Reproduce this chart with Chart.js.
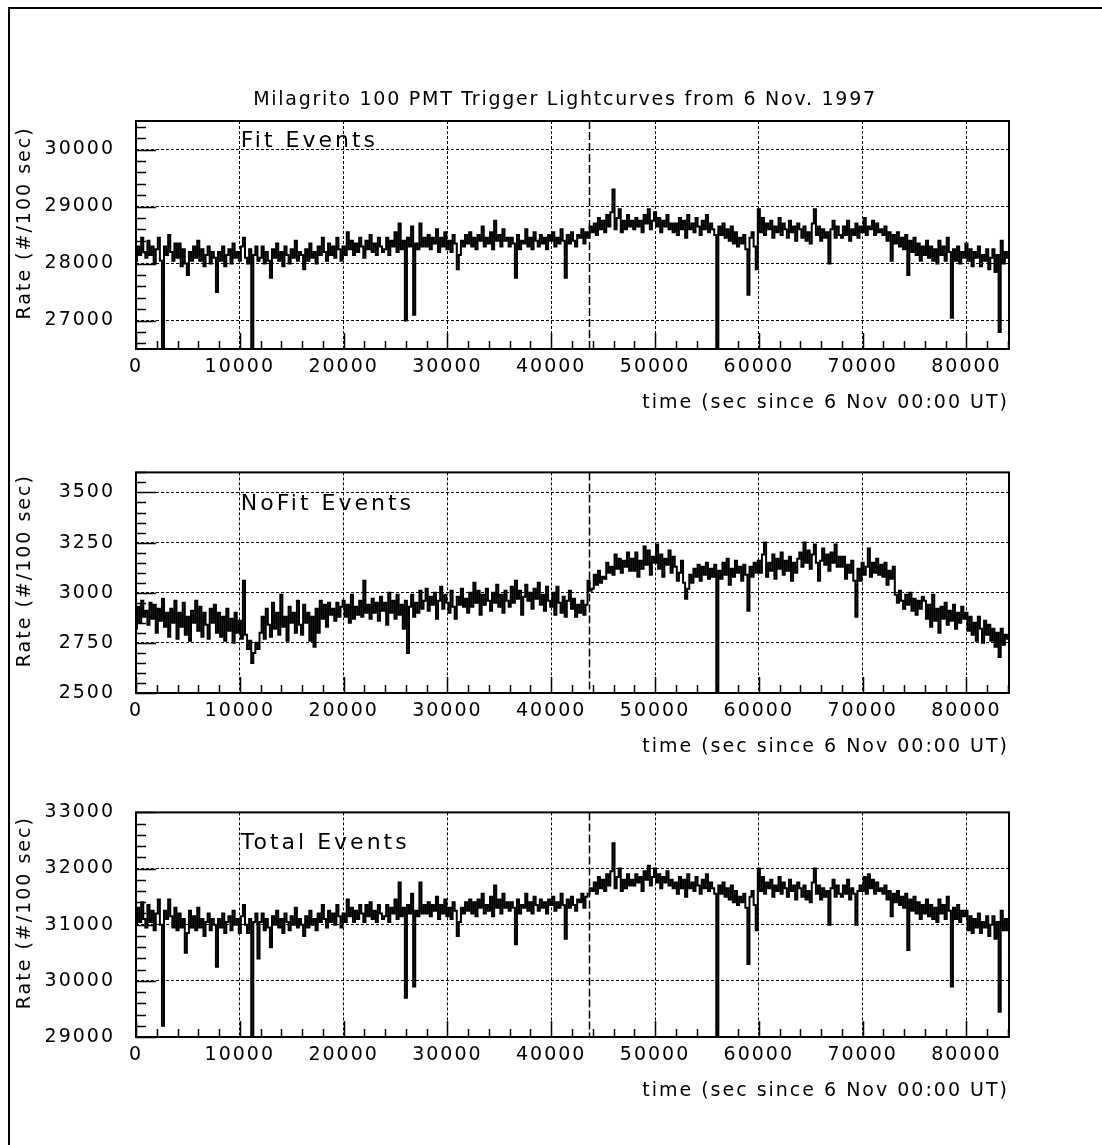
<!DOCTYPE html>
<html>
<head>
<meta charset="utf-8">
<title>Milagrito 100 PMT Trigger Lightcurves</title>
<script src="https://cdn.jsdelivr.net/npm/chart.js@4.4.1/dist/chart.umd.min.js"></script>
<style>
    html, body { margin: 0; padding: 0; background: #fff; }
    #page { position: relative; width: 1102px; height: 1145px; overflow: hidden; }
    #frame { position: absolute; left: 8px; top: 7px; width: 1200px; height: 1200px;
             border-left: 2px solid #000; border-top: 2px solid #000; }
    canvas { position: absolute; left: 0; }
</style>
</head>
<body>
<div id="page">
    <div id="frame"></div>
    <canvas id="fitChart" width="1102" height="341" style="top:80px"></canvas>
    <canvas id="noFitChart" width="1102" height="325" style="top:440px"></canvas>
    <canvas id="totalChart" width="1102" height="329" style="top:780px"></canvas>
</div>
<script>
// rates, one value every 200 sec from 0 to 84000 (20 per row = 4000 sec)
const BIN_SEC = 200;
const T_MAX = 84100;
const TRIGGER_TIME = 43600;

const xTickLabels = [0, 10000, 20000, 30000, 40000, 50000, 60000, 70000, 80000];
const X_MINOR_STEP = 2000;

const fitRate = [
    28050, 28300, 28150, 28450, 28200, 28100, 28400, 28150, 28300, 28000, 28250, 28450, 28050, 26100, 28300, 28150, 28500, 28200, 28050, 28350,
    28100, 28350, 27950, 28250, 28000, 27800, 28200, 28050, 28300, 28100, 28400, 28050, 28250, 27950, 28150, 28300, 28000, 28200, 28100, 27500,
    28200, 28050, 28300, 27950, 28150, 28250, 28000, 28350, 28100, 28200, 28050, 28300, 28450, 28100, 28000, 28250, 26400, 28150, 28300, 28050,
    28100, 28300, 28000, 28200, 28050, 27750, 28250, 28100, 28350, 28050, 28200, 27950, 28300, 28150, 28000, 28250, 28100, 28400, 28050, 28200,
    28150, 27900, 28250, 28050, 28350, 28100, 28200, 28000, 28300, 28150, 28450, 28200, 28050, 28350, 28150, 28300, 28100, 28450, 28250, 28050,
    28300, 28150, 28550, 28250, 28400, 28150, 28350, 28200, 28450, 28300, 28100, 28400, 28250, 28500, 28200, 28350, 28150, 28450, 28300, 28200,
    28250, 28450, 28150, 28400, 28300, 28550, 28200, 28700, 28250, 28400, 27000, 28450, 28300, 28650, 27100, 28350, 28250, 28700, 28300, 28450,
    28300, 28500, 28250, 28450, 28350, 28600, 28200, 28450, 28300, 28550, 28250, 28400, 28200, 28500, 28350, 27900, 28150, 28400, 28300, 28500,
    28350, 28550, 28300, 28450, 28250, 28500, 28400, 28650, 28300, 28450, 28350, 28550, 28250, 28750, 28400, 28500, 28300, 28600, 28400, 28450,
    28300, 28450, 28350, 27750, 28500, 28250, 28400, 28350, 28600, 28300, 28450, 28250, 28550, 28400, 28300, 28500, 28350, 28450, 28250, 28500,
    28400, 28550, 28300, 28450, 28350, 28600, 28400, 27750, 28500, 28350, 28550, 28400, 28300, 28500, 28450, 28600, 28350, 28550, 28450, 28650,
    28550, 28700, 28500, 28800, 28600, 28750, 28550, 28850, 28650, 28900, 29300, 28600, 28800, 28950, 28550, 28750, 28600, 28850, 28650, 28750,
    28600, 28800, 28650, 28750, 28550, 28850, 28700, 28950, 28600, 28750, 28900, 28650, 28800, 28550, 28750, 28650, 28850, 28600, 28700, 28550,
    28700, 28500, 28800, 28600, 28750, 28450, 28850, 28600, 28700, 28550, 28800, 28650, 28500, 28750, 28600, 28850, 28550, 28700, 28600, 28500,
    26300, 28650, 28500, 28700, 28450, 28600, 28400, 28650, 28350, 28550, 28300, 28450, 28350, 28500, 28250, 27450, 28450, 28550, 28300, 27900,
    28950, 28550, 28800, 28500, 28700, 28600, 28750, 28450, 28650, 28550, 28800, 28500, 28700, 28600, 28450, 28750, 28550, 28650, 28400, 28700,
    28600, 28450, 28650, 28400, 28550, 28350, 28700, 28950, 28500, 28650, 28400, 28600, 28450, 28550, 28000, 28600, 28750, 28450, 28650, 28500,
    28450, 28650, 28500, 28750, 28400, 28600, 28500, 28700, 28450, 28650, 28550, 28800, 28500, 28650, 28600, 28750, 28500, 28700, 28550, 28600,
    28500, 28650, 28400, 28550, 28050, 28500, 28350, 28550, 28300, 28450, 28250, 28500, 27800, 28400, 28200, 28450, 28150, 28350, 28050, 28300,
    28150, 28400, 28100, 28300, 28050, 28250, 28000, 28400, 28150, 28300, 28050, 28450, 28200, 27050, 28250, 28050, 28300, 28000, 28200, 28100,
    28350, 28050, 28250, 27950, 28200, 28100, 28300, 27950, 28150, 28050, 28250, 27900, 28100, 28250, 27850, 28150, 26800, 28400, 28000, 28200,
    28100
];

const noFitRate = [
    2820, 2930, 2850, 2960, 2880, 2910, 2840, 2950, 2870, 2940, 2800, 2920, 2860, 2970, 2830, 2900, 2780, 2920, 2850, 2960,
    2770, 2900, 2830, 2950, 2790, 2880, 2760, 2910, 2850, 2960, 2810, 2930, 2780, 2900, 2840, 2770, 2920, 2850, 2940, 2800,
    2900, 2780, 2880, 2760, 2920, 2810, 2870, 2750, 2900, 2800, 2860, 2770, 3060, 2790, 2720, 2760, 2650, 2700, 2750, 2720,
    2800, 2880, 2770, 2920, 2840, 2780, 2950, 2820, 2900, 2790, 2990, 2830, 2880, 2760, 2930, 2850, 2900, 2800, 2960, 2840,
    2790, 2940, 2850, 2900, 2760, 2880, 2730, 2920, 2800, 2960, 2870, 2940, 2830, 2950, 2890, 2920, 2860, 2950, 2880, 2930,
    2960, 2880, 2940, 2850, 2990, 2870, 2930, 2890, 2960, 2880, 3060, 2900, 2940, 2870, 2970, 2900, 2950, 2860, 2980, 2910,
    2950, 2840, 3000, 2900, 2960, 2870, 2990, 2890, 2940, 2820, 2960, 2700, 2930, 2990, 2880, 2950, 2900, 3010, 2920, 2960,
    3020, 2910, 2980, 2940, 3000, 2870, 2960, 3030, 2920, 2990, 2950, 2900, 3010, 2930, 2870, 2980, 2940, 3020, 2930, 2970,
    2900, 3000, 2930, 3050, 2950, 3010, 2890, 2990, 2940, 3020, 2960, 2910, 3000, 2950, 3040, 2930, 2990, 2900, 3010, 2960,
    2930, 3030, 2950, 3060, 2970, 3010, 2890, 2980, 3040, 2960, 3000, 2920, 3020, 2970, 3050, 2940, 2990, 2910, 3030, 2960,
    2930, 3000, 2890, 3030, 2950, 2900, 2980, 2880, 2960, 3010, 2920, 2970, 2880, 2940, 2900, 2960, 2890, 2940, 3060, 3010,
    3020, 3090, 3040, 3110, 3050, 3080, 3070, 3150, 3100, 3130, 3090, 3190, 3120, 3170, 3100, 3160, 3130, 3200, 3110, 3170,
    3110, 3200, 3080, 3160, 3120, 3230, 3140, 3210, 3090, 3180, 3150, 3240, 3120, 3190, 3080, 3170, 3140, 3210, 3100, 3180,
    3130, 3060, 3100, 3160, 3050, 2970, 3020, 3090, 3050, 3120, 3080, 3140, 3060, 3130, 3090, 3150, 3070, 3120, 3080, 3140,
    2480, 3110, 3070, 3150, 3090, 3170, 3040, 3120, 3080, 3160, 3100, 3130, 3060, 3140, 3090, 2910, 3130, 3080, 3150, 3100,
    3160, 3100, 3190, 3250, 3080, 3150, 3110, 3190, 3070, 3170, 3120, 3200, 3090, 3160, 3110, 3180, 3060, 3150, 3100, 3170,
    3200, 3130, 3250, 3150, 3210, 3120, 3190, 3240, 3150, 3060, 3160, 3220, 3140, 3190, 3110, 3200, 3150, 3240, 3130, 3180,
    3130, 3180, 3070, 3140, 3100, 3160, 3060, 2880, 3120, 3060, 3150, 3090, 3130, 3220, 3080, 3150, 3100, 3170, 3090, 3140,
    3080, 3150, 3040, 3110, 3070, 3130, 2990, 2950, 3010, 2960, 2920, 2990, 2940, 3000, 2910, 2970, 2890, 2960, 2920, 2980,
    2960, 2870, 2940, 2830, 2990, 2860, 2920, 2800, 2930, 2870, 2950, 2840, 2910, 2860, 2940, 2820, 2900, 2850, 2930, 2870,
    2900, 2810, 2880, 2790, 2850, 2760, 2880, 2820, 2750, 2860, 2790, 2840, 2760, 2820, 2730, 2800, 2680, 2820, 2740, 2790,
    2770
];

const totalRate = [
    31000, 31300, 31050, 31400, 31100, 30950, 31350, 31050, 31250, 30900, 31200, 31450, 31000, 29200, 31250, 31100, 31450, 31150, 30950, 31300,
    30900, 31200, 30950, 31100, 30500, 30850, 31250, 30950, 31150, 30900, 31300, 30950, 31100, 30800, 31050, 31200, 30900, 31100, 31000, 30250,
    31100, 30950, 31200, 30850, 31050, 31150, 30900, 31250, 31000, 31100, 30850, 31150, 31350, 31000, 30850, 31100, 28900, 31050, 31200, 30400,
    31050, 31200, 30900, 31100, 30950, 30600, 31150, 31000, 31250, 30950, 31100, 30850, 31200, 31050, 30900, 31150, 31000, 31300, 30950, 31100,
    31000, 30800, 31150, 30950, 31250, 31000, 31100, 30900, 31200, 31050, 31350, 31100, 30950, 31250, 31050, 31200, 31000, 31350, 31150, 30950,
    31200, 31050, 31450, 31150, 31300, 31050, 31250, 31100, 31350, 31200, 31050, 31350, 31150, 31400, 31100, 31250, 31050, 31350, 31200, 31100,
    31150, 31350, 31050, 31300, 31200, 31450, 31100, 31750, 31150, 31300, 29700, 31350, 31200, 31550, 29900, 31250, 31150, 31750, 31200, 31350,
    31200, 31400, 31150, 31350, 31250, 31500, 31100, 31350, 31200, 31450, 31150, 31300, 31100, 31400, 31250, 30800, 31050, 31300, 31200, 31400,
    31250, 31450, 31200, 31400, 31150, 31450, 31300, 31550, 31200, 31350, 31250, 31500, 31150, 31700, 31300, 31450, 31200, 31550, 31300, 31400,
    31250, 31400, 31300, 30650, 31450, 31200, 31350, 31300, 31550, 31250, 31400, 31200, 31500, 31350, 31250, 31450, 31300, 31400, 31200, 31450,
    31350, 31500, 31250, 31400, 31300, 31550, 31350, 30750, 31450, 31300, 31500, 31350, 31250, 31450, 31400, 31550, 31300, 31500, 31550, 31650,
    31600, 31750, 31550, 31850, 31650, 31800, 31600, 31900, 31700, 31950, 32450, 31650, 31850, 32000, 31600, 31800, 31650, 31900, 31700, 31800,
    31700, 31900, 31750, 31850, 31600, 31950, 31800, 32050, 31700, 31850, 32000, 31750, 31900, 31650, 31850, 31750, 31950, 31700, 31800, 31650,
    31750, 31550, 31850, 31650, 31800, 31500, 31900, 31650, 31750, 31600, 31850, 31700, 31550, 31800, 31650, 31900, 31600, 31750, 31650, 31550,
    28900, 31700, 31550, 31750, 31500, 31650, 31450, 31700, 31400, 31600, 31350, 31500, 31400, 31550, 31300, 30300, 31500, 31600, 31350, 30900,
    32000, 31600, 31850, 31550, 31750, 31650, 31800, 31500, 31700, 31600, 31850, 31550, 31750, 31650, 31500, 31800, 31600, 31700, 31450, 31750,
    31650, 31500, 31700, 31450, 31600, 31400, 31750, 32000, 31550, 31700, 31450, 31650, 31500, 31600, 31000, 31650, 31800, 31500, 31700, 31550,
    31500, 31700, 31550, 31800, 31450, 31650, 31550, 31000, 31600, 31700, 31600, 31850, 31550, 31900, 31650, 31800, 31550, 31750, 31600, 31650,
    31550, 31700, 31450, 31600, 31150, 31550, 31400, 31600, 31350, 31500, 31300, 31550, 30550, 31450, 31250, 31500, 31200, 31400, 31100, 31350,
    31200, 31450, 31150, 31350, 31100, 31300, 31050, 31450, 31200, 31350, 31100, 31500, 31250, 29900, 31300, 31100, 31350, 31050, 31250, 31150,
    31250, 30900, 31150, 30850, 31100, 30950, 31200, 30850, 31050, 30950, 31150, 30800, 31000, 31150, 30750, 31050, 29450, 31250, 30900, 31100,
    30900
];

const fitYLabels = [27000, 28000, 29000, 30000];
const noFitYLabels = [2500, 2750, 3000, 3250, 3500];
const totalYLabels = [29000, 30000, 31000, 32000, 33000];

const MAIN_TITLE = 'Milagrito 100 PMT Trigger Lightcurves from 6 Nov. 1997';
const X_TITLE = 'time (sec since 6 Nov 00:00 UT)';
const Y_TITLE = '   Rate (#/100 sec)';

const FONT = '"DejaVu Sans", "Liberation Sans", sans-serif';
const tickFont = { family: FONT, size: 19 };

function stepTicks(min, max, step) {
    const out = [];
    for (let v = Math.ceil(min / step) * step; v <= max; v += step) {
        out.push({ value: v });
    }
    return out;
}

// frame, inward tick marks, trigger marker and the panel label
const panelDecor = {
    id: 'panelDecor',
    beforeDraw(chart) {
        chart.ctx.letterSpacing = '2px';
    },
    beforeDatasetsDraw(chart) {
        const { ctx, chartArea: a, scales: { x } } = chart;
        const px = Math.round(x.getPixelForValue(TRIGGER_TIME)) + 0.5;
        ctx.save();
        ctx.strokeStyle = '#000';
        ctx.lineWidth = 1.5;
        ctx.setLineDash([8, 3]);
        ctx.beginPath();
        ctx.moveTo(px, a.top);
        ctx.lineTo(px, a.bottom);
        ctx.stroke();
        ctx.restore();
    },
    afterDatasetsDraw(chart, args, opts) {
        const { ctx, chartArea: a, scales: { x, y } } = chart;
        ctx.save();
        ctx.strokeStyle = '#000';
        ctx.lineWidth = 1.5;
        ctx.beginPath();
        x.ticks.forEach(t => {
            const px = Math.round(x.getPixelForValue(t.value)) + 0.5;
            const len = xTickLabels.includes(t.value) ? 16 : 8;
            ctx.moveTo(px, a.bottom);
            ctx.lineTo(px, a.bottom - len);
        });
        y.ticks.forEach(t => {
            const py = Math.round(y.getPixelForValue(t.value)) + 0.5;
            const len = opts.yLabels.includes(t.value) ? 20 : 10;
            ctx.moveTo(a.left, py);
            ctx.lineTo(a.left + len, py);
        });
        ctx.stroke();

        ctx.lineWidth = 2;
        ctx.strokeRect(a.left, a.top, a.right - a.left, a.bottom - a.top);

        ctx.fillStyle = '#000';
        ctx.textBaseline = 'middle';
        ctx.textAlign = 'left';
        ctx.letterSpacing = '3px';
        ctx.font = '22px ' + FONT;
        ctx.fillText(opts.label, x.getPixelForValue(10000) + 1, a.top + opts.labelDy);
        ctx.restore();
    },
    afterDraw(chart, args, opts) {
        const ctx = chart.ctx;
        if (opts.title) {
            ctx.save();
            ctx.letterSpacing = '1.75px';
            ctx.font = '19px ' + FONT;
            ctx.fillStyle = '#000';
            ctx.textAlign = 'center';
            ctx.textBaseline = 'middle';
            ctx.fillText(opts.title, 565, chart.chartArea.top - 21);
            ctx.restore();
        }
        ctx.letterSpacing = '0px';
    }
};

function makePanel(canvasId, values, cfg) {
    const isMajorY = v => cfg.yLabels.includes(v);
    return new Chart(document.getElementById(canvasId), {
        type: 'line',
        data: {
            datasets: [{
                data: values.map((v, i) => ({ x: i * BIN_SEC, y: v })),
                borderColor: '#000',
                borderWidth: 2,
                stepped: 'middle',
                pointRadius: 0,
                fill: false
            }]
        },
        options: {
            responsive: false,
            animation: false,
            devicePixelRatio: 1,
            layout: { padding: { top: cfg.padTop, right: 93, bottom: 0, left: 0 } },
            plugins: {
                legend: { display: false },
                tooltip: { enabled: false },
                panelDecor: { label: cfg.label, labelDy: cfg.labelDy, yLabels: cfg.yLabels, title: cfg.title }
            },
            scales: {
                x: {
                    type: 'linear',
                    min: 0,
                    max: T_MAX,
                    afterBuildTicks: s => { s.ticks = stepTicks(0, T_MAX, X_MINOR_STEP); },
                    afterFit: s => { s.height = 72; },
                    ticks: {
                        autoSkip: false,
                        maxRotation: 0,
                        padding: 7,
                        color: '#000',
                        font: tickFont,
                        callback: v => xTickLabels.includes(v) ? String(v) : ''
                    },
                    grid: {
                        drawTicks: false,
                        lineWidth: 1,
                        color: c => (c.tick && xTickLabels.includes(c.tick.value)) ? '#000' : 'rgba(0,0,0,0)'
                    },
                    border: { display: false, dash: [3, 2] },
                    title: {
                        display: true,
                        text: X_TITLE,
                        align: 'end',
                        color: '#000',
                        font: tickFont,
                        padding: { top: 0, bottom: 7 }
                    }
                },
                y: {
                    type: 'linear',
                    min: cfg.yMin,
                    max: cfg.yMax,
                    afterBuildTicks: s => { s.ticks = stepTicks(cfg.yMin, cfg.yMax, cfg.yStep); },
                    afterFit: s => { s.width = 136; },
                    ticks: {
                        autoSkip: false,
                        padding: 21,
                        color: '#000',
                        font: tickFont,
                        callback: v => isMajorY(v) ? String(v) : ''
                    },
                    grid: {
                        drawTicks: false,
                        lineWidth: 1,
                        color: c => (c.tick && isMajorY(c.tick.value)) ? '#000' : 'rgba(0,0,0,0)'
                    },
                    border: { display: false, dash: [3, 2] },
                    title: {
                        display: true,
                        text: Y_TITLE,
                        color: '#000',
                        font: tickFont,
                        padding: { top: 14, bottom: 0 }
                    }
                }
            }
        },
        plugins: [panelDecor]
    });
}

makePanel('fitChart', fitRate, {
    yMin: 26500, yMax: 30500, yStep: 200, yLabels: fitYLabels,
    label: 'Fit Events', labelDy: 20, padTop: 41, title: MAIN_TITLE
});
makePanel('noFitChart', noFitRate, {
    yMin: 2500, yMax: 3600, yStep: 50, yLabels: noFitYLabels,
    label: 'NoFit Events', labelDy: 32, padTop: 25
});
makePanel('totalChart', totalRate, {
    yMin: 29000, yMax: 33000, yStep: 200, yLabels: totalYLabels,
    label: 'Total Events', labelDy: 31, padTop: 28
});
</script>
</body>
</html>
